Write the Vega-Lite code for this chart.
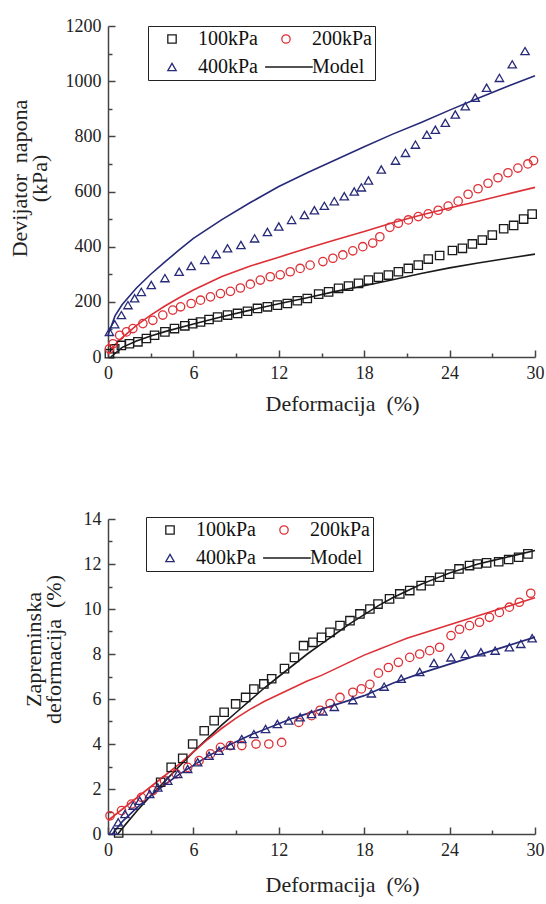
{
  "$schema": "https://vega.github.io/schema/vega-lite/v6.json",
  "padding": {"left": 8, "top": 17, "right": 8, "bottom": 5},
  "spacing": 96,
  "config": {
    "view": {"stroke": null},
    "font": "Liberation Serif",
    "axis": {
      "grid": false,
      "labelFont": "Liberation Serif",
      "labelFontSize": 18,
      "labelColor": "#222222",
      "titleFont": "Liberation Serif",
      "titleFontSize": 22,
      "titleFontWeight": "normal",
      "titleColor": "#222222",
      "domainColor": "#444444",
      "domainWidth": 1.5,
      "tickColor": "#444444",
      "tickWidth": 1.5,
      "labelOverlap": false,
      "labelFlush": false,
      "labelPadding": 14,
      "titleLineHeight": 20
    },
    "legend": {
      "orient": "none",
      "direction": "horizontal",
      "columns": 2,
      "strokeColor": "#222222",
      "padding": 3,
      "rowPadding": 8,
      "columnPadding": 7,
      "labelFont": "Liberation Serif",
      "labelFontSize": 20,
      "labelColor": "#111111",
      "labelOffset": 16,
      "symbolOffset": 11,
      "labelLimit": 300,
      "symbolStrokeWidth": 1.3,
      "clipHeight": 20,
      "symbolSize": 70
    }
  },
  "datasets": {
    "topPts": [
      {"x":0.1,"y":12,"s":"100kPa"},{"x":0.47,"y":30,"s":"100kPa"},{"x":0.94,"y":42,"s":"100kPa"},{"x":1.5,"y":48,"s":"100kPa"},{"x":2.1,"y":55,"s":"100kPa"},{"x":2.7,"y":67,"s":"100kPa"},{"x":3.27,"y":79,"s":"100kPa"},{"x":4.0,"y":91,"s":"100kPa"},{"x":4.67,"y":103,"s":"100kPa"},{"x":5.4,"y":113,"s":"100kPa"},{"x":5.95,"y":121,"s":"100kPa"},{"x":6.5,"y":127,"s":"100kPa"},{"x":7.1,"y":136,"s":"100kPa"},{"x":7.7,"y":145,"s":"100kPa"},{"x":8.4,"y":152,"s":"100kPa"},{"x":9.1,"y":158,"s":"100kPa"},{"x":9.8,"y":166,"s":"100kPa"},{"x":10.5,"y":176,"s":"100kPa"},{"x":11.2,"y":182,"s":"100kPa"},{"x":11.9,"y":188,"s":"100kPa"},{"x":12.6,"y":194,"s":"100kPa"},{"x":13.3,"y":204,"s":"100kPa"},{"x":14.0,"y":212,"s":"100kPa"},{"x":14.8,"y":228,"s":"100kPa"},{"x":15.5,"y":236,"s":"100kPa"},{"x":16.2,"y":249,"s":"100kPa"},{"x":16.9,"y":257,"s":"100kPa"},{"x":17.6,"y":267,"s":"100kPa"},{"x":18.3,"y":279,"s":"100kPa"},{"x":19.0,"y":289,"s":"100kPa"},{"x":19.7,"y":297,"s":"100kPa"},{"x":20.4,"y":309,"s":"100kPa"},{"x":21.1,"y":321,"s":"100kPa"},{"x":21.8,"y":333,"s":"100kPa"},{"x":22.5,"y":355,"s":"100kPa"},{"x":23.3,"y":368,"s":"100kPa"},{"x":24.2,"y":386,"s":"100kPa"},{"x":24.9,"y":394,"s":"100kPa"},{"x":25.6,"y":410,"s":"100kPa"},{"x":26.3,"y":424,"s":"100kPa"},{"x":27.0,"y":442,"s":"100kPa"},{"x":27.8,"y":465,"s":"100kPa"},{"x":28.5,"y":477,"s":"100kPa"},{"x":29.2,"y":500,"s":"100kPa"},{"x":29.8,"y":518,"s":"100kPa"},
      {"x":0.1,"y":30,"s":"200kPa"},{"x":0.35,"y":48,"s":"200kPa"},{"x":0.82,"y":79,"s":"200kPa"},{"x":1.3,"y":91,"s":"200kPa"},{"x":1.75,"y":103,"s":"200kPa"},{"x":2.45,"y":121,"s":"200kPa"},{"x":3.15,"y":133,"s":"200kPa"},{"x":3.85,"y":152,"s":"200kPa"},{"x":4.55,"y":170,"s":"200kPa"},{"x":5.1,"y":182,"s":"200kPa"},{"x":5.84,"y":194,"s":"200kPa"},{"x":6.5,"y":206,"s":"200kPa"},{"x":7.2,"y":218,"s":"200kPa"},{"x":7.9,"y":230,"s":"200kPa"},{"x":8.6,"y":238,"s":"200kPa"},{"x":9.3,"y":250,"s":"200kPa"},{"x":10.0,"y":264,"s":"200kPa"},{"x":10.7,"y":279,"s":"200kPa"},{"x":11.4,"y":291,"s":"200kPa"},{"x":12.1,"y":298,"s":"200kPa"},{"x":12.8,"y":309,"s":"200kPa"},{"x":13.5,"y":321,"s":"200kPa"},{"x":14.2,"y":333,"s":"200kPa"},{"x":15.1,"y":346,"s":"200kPa"},{"x":15.8,"y":358,"s":"200kPa"},{"x":16.5,"y":370,"s":"200kPa"},{"x":17.2,"y":385,"s":"200kPa"},{"x":17.9,"y":400,"s":"200kPa"},{"x":18.6,"y":413,"s":"200kPa"},{"x":19.1,"y":436,"s":"200kPa"},{"x":19.8,"y":470,"s":"200kPa"},{"x":20.4,"y":485,"s":"200kPa"},{"x":21.1,"y":497,"s":"200kPa"},{"x":21.8,"y":509,"s":"200kPa"},{"x":22.5,"y":519,"s":"200kPa"},{"x":23.2,"y":532,"s":"200kPa"},{"x":23.9,"y":547,"s":"200kPa"},{"x":24.6,"y":565,"s":"200kPa"},{"x":25.3,"y":590,"s":"200kPa"},{"x":26.0,"y":610,"s":"200kPa"},{"x":26.7,"y":630,"s":"200kPa"},{"x":27.4,"y":650,"s":"200kPa"},{"x":28.1,"y":668,"s":"200kPa"},{"x":28.8,"y":685,"s":"200kPa"},{"x":29.5,"y":700,"s":"200kPa"},{"x":29.9,"y":712,"s":"200kPa"},
      {"x":0.1,"y":91,"s":"400kPa"},{"x":0.47,"y":119,"s":"400kPa"},{"x":0.94,"y":152,"s":"400kPa"},{"x":1.4,"y":188,"s":"400kPa"},{"x":1.87,"y":213,"s":"400kPa"},{"x":2.34,"y":236,"s":"400kPa"},{"x":3.04,"y":261,"s":"400kPa"},{"x":4.0,"y":286,"s":"400kPa"},{"x":5.0,"y":309,"s":"400kPa"},{"x":5.84,"y":330,"s":"400kPa"},{"x":6.8,"y":352,"s":"400kPa"},{"x":7.6,"y":373,"s":"400kPa"},{"x":8.4,"y":394,"s":"400kPa"},{"x":9.34,"y":406,"s":"400kPa"},{"x":10.3,"y":430,"s":"400kPa"},{"x":11.2,"y":453,"s":"400kPa"},{"x":12.0,"y":473,"s":"400kPa"},{"x":12.9,"y":497,"s":"400kPa"},{"x":13.8,"y":515,"s":"400kPa"},{"x":14.5,"y":532,"s":"400kPa"},{"x":15.2,"y":548,"s":"400kPa"},{"x":15.9,"y":565,"s":"400kPa"},{"x":16.6,"y":583,"s":"400kPa"},{"x":17.3,"y":600,"s":"400kPa"},{"x":17.8,"y":615,"s":"400kPa"},{"x":18.3,"y":640,"s":"400kPa"},{"x":19.2,"y":680,"s":"400kPa"},{"x":20.2,"y":712,"s":"400kPa"},{"x":20.9,"y":740,"s":"400kPa"},{"x":21.6,"y":770,"s":"400kPa"},{"x":22.4,"y":806,"s":"400kPa"},{"x":23.0,"y":824,"s":"400kPa"},{"x":23.7,"y":849,"s":"400kPa"},{"x":24.4,"y":879,"s":"400kPa"},{"x":25.1,"y":909,"s":"400kPa"},{"x":25.8,"y":940,"s":"400kPa"},{"x":26.6,"y":976,"s":"400kPa"},{"x":27.5,"y":1012,"s":"400kPa"},{"x":28.4,"y":1061,"s":"400kPa"},{"x":29.3,"y":1109,"s":"400kPa"}
    ],
    "topModel": [
      {"x":0.2,"y":0,"s":"100kPa"},{"x":1,"y":35,"s":"100kPa"},{"x":2,"y":58,"s":"100kPa"},{"x":3,"y":76,"s":"100kPa"},{"x":4,"y":92,"s":"100kPa"},{"x":6,"y":120,"s":"100kPa"},{"x":8,"y":146,"s":"100kPa"},{"x":10,"y":170,"s":"100kPa"},{"x":12,"y":193,"s":"100kPa"},{"x":14,"y":215,"s":"100kPa"},{"x":16,"y":238,"s":"100kPa"},{"x":18,"y":258,"s":"100kPa"},{"x":20,"y":280,"s":"100kPa"},{"x":22,"y":303,"s":"100kPa"},{"x":24,"y":323,"s":"100kPa"},{"x":26,"y":341,"s":"100kPa"},{"x":28,"y":357,"s":"100kPa"},{"x":30,"y":373,"s":"100kPa"},
      {"x":0,"y":10,"s":"200kPa"},{"x":0.5,"y":45,"s":"200kPa"},{"x":1,"y":70,"s":"200kPa"},{"x":2,"y":115,"s":"200kPa"},{"x":3,"y":152,"s":"200kPa"},{"x":4,"y":185,"s":"200kPa"},{"x":5,"y":215,"s":"200kPa"},{"x":6,"y":243,"s":"200kPa"},{"x":8,"y":292,"s":"200kPa"},{"x":10,"y":330,"s":"200kPa"},{"x":12,"y":362,"s":"200kPa"},{"x":14,"y":394,"s":"200kPa"},{"x":16,"y":425,"s":"200kPa"},{"x":18,"y":455,"s":"200kPa"},{"x":20,"y":487,"s":"200kPa"},{"x":22,"y":515,"s":"200kPa"},{"x":24,"y":540,"s":"200kPa"},{"x":26,"y":565,"s":"200kPa"},{"x":28,"y":590,"s":"200kPa"},{"x":30,"y":615,"s":"200kPa"},
      {"x":0,"y":80,"s":"400kPa"},{"x":0.5,"y":150,"s":"400kPa"},{"x":1,"y":190,"s":"400kPa"},{"x":2,"y":250,"s":"400kPa"},{"x":3,"y":300,"s":"400kPa"},{"x":4,"y":345,"s":"400kPa"},{"x":5,"y":388,"s":"400kPa"},{"x":6,"y":430,"s":"400kPa"},{"x":8,"y":498,"s":"400kPa"},{"x":10,"y":560,"s":"400kPa"},{"x":12,"y":618,"s":"400kPa"},{"x":14,"y":668,"s":"400kPa"},{"x":16,"y":715,"s":"400kPa"},{"x":18,"y":762,"s":"400kPa"},{"x":20,"y":808,"s":"400kPa"},{"x":22,"y":850,"s":"400kPa"},{"x":24,"y":895,"s":"400kPa"},{"x":26,"y":938,"s":"400kPa"},{"x":28,"y":980,"s":"400kPa"},{"x":30,"y":1020,"s":"400kPa"}
    ],
    "botPts": [
      {"x":0.75,"y":0.05,"s":"100kPa"},{"x":3.7,"y":2.3,"s":"100kPa"},{"x":4.44,"y":2.96,"s":"100kPa"},{"x":5.25,"y":3.36,"s":"100kPa"},{"x":5.95,"y":4.0,"s":"100kPa"},{"x":6.76,"y":4.59,"s":"100kPa"},{"x":7.46,"y":5.04,"s":"100kPa"},{"x":8.16,"y":5.41,"s":"100kPa"},{"x":8.97,"y":5.78,"s":"100kPa"},{"x":9.67,"y":6.07,"s":"100kPa"},{"x":10.25,"y":6.44,"s":"100kPa"},{"x":10.95,"y":6.67,"s":"100kPa"},{"x":11.5,"y":6.9,"s":"100kPa"},{"x":12.4,"y":7.35,"s":"100kPa"},{"x":13.1,"y":7.85,"s":"100kPa"},{"x":13.74,"y":8.37,"s":"100kPa"},{"x":14.4,"y":8.52,"s":"100kPa"},{"x":15.0,"y":8.74,"s":"100kPa"},{"x":15.6,"y":8.96,"s":"100kPa"},{"x":16.3,"y":9.26,"s":"100kPa"},{"x":17.0,"y":9.48,"s":"100kPa"},{"x":17.7,"y":9.78,"s":"100kPa"},{"x":18.4,"y":10.0,"s":"100kPa"},{"x":18.97,"y":10.22,"s":"100kPa"},{"x":19.78,"y":10.45,"s":"100kPa"},{"x":20.5,"y":10.67,"s":"100kPa"},{"x":21.2,"y":10.82,"s":"100kPa"},{"x":22.0,"y":11.04,"s":"100kPa"},{"x":22.6,"y":11.25,"s":"100kPa"},{"x":23.3,"y":11.41,"s":"100kPa"},{"x":24.0,"y":11.55,"s":"100kPa"},{"x":24.66,"y":11.78,"s":"100kPa"},{"x":25.4,"y":11.93,"s":"100kPa"},{"x":25.95,"y":12.0,"s":"100kPa"},{"x":26.6,"y":12.05,"s":"100kPa"},{"x":27.45,"y":12.1,"s":"100kPa"},{"x":28.15,"y":12.2,"s":"100kPa"},{"x":28.85,"y":12.3,"s":"100kPa"},{"x":29.5,"y":12.45,"s":"100kPa"},
      {"x":0.14,"y":0.81,"s":"200kPa"},{"x":0.95,"y":1.04,"s":"200kPa"},{"x":1.65,"y":1.33,"s":"200kPa"},{"x":2.35,"y":1.63,"s":"200kPa"},{"x":3.16,"y":1.93,"s":"200kPa"},{"x":3.97,"y":2.37,"s":"200kPa"},{"x":4.8,"y":2.67,"s":"200kPa"},{"x":5.6,"y":2.96,"s":"200kPa"},{"x":6.4,"y":3.26,"s":"200kPa"},{"x":7.2,"y":3.56,"s":"200kPa"},{"x":7.9,"y":3.85,"s":"200kPa"},{"x":8.6,"y":3.93,"s":"200kPa"},{"x":9.4,"y":3.93,"s":"200kPa"},{"x":10.4,"y":4.0,"s":"200kPa"},{"x":11.3,"y":4.0,"s":"200kPa"},{"x":12.2,"y":4.07,"s":"200kPa"},{"x":13.4,"y":4.96,"s":"200kPa"},{"x":14.3,"y":5.26,"s":"200kPa"},{"x":14.9,"y":5.5,"s":"200kPa"},{"x":15.6,"y":5.8,"s":"200kPa"},{"x":16.3,"y":6.07,"s":"200kPa"},{"x":17.2,"y":6.3,"s":"200kPa"},{"x":17.8,"y":6.45,"s":"200kPa"},{"x":18.4,"y":6.65,"s":"200kPa"},{"x":19.0,"y":7.15,"s":"200kPa"},{"x":19.7,"y":7.4,"s":"200kPa"},{"x":20.4,"y":7.63,"s":"200kPa"},{"x":21.2,"y":7.85,"s":"200kPa"},{"x":21.9,"y":8.0,"s":"200kPa"},{"x":22.6,"y":8.15,"s":"200kPa"},{"x":23.3,"y":8.3,"s":"200kPa"},{"x":24.1,"y":8.82,"s":"200kPa"},{"x":24.7,"y":9.1,"s":"200kPa"},{"x":25.4,"y":9.26,"s":"200kPa"},{"x":26.1,"y":9.41,"s":"200kPa"},{"x":26.8,"y":9.63,"s":"200kPa"},{"x":27.5,"y":9.85,"s":"200kPa"},{"x":28.2,"y":10.08,"s":"200kPa"},{"x":28.9,"y":10.3,"s":"200kPa"},{"x":29.7,"y":10.7,"s":"200kPa"},
      {"x":0.37,"y":0.15,"s":"400kPa"},{"x":0.72,"y":0.52,"s":"400kPa"},{"x":1.19,"y":0.89,"s":"400kPa"},{"x":1.77,"y":1.26,"s":"400kPa"},{"x":2.23,"y":1.48,"s":"400kPa"},{"x":2.93,"y":1.78,"s":"400kPa"},{"x":3.5,"y":2.07,"s":"400kPa"},{"x":4.2,"y":2.37,"s":"400kPa"},{"x":4.9,"y":2.67,"s":"400kPa"},{"x":5.6,"y":2.89,"s":"400kPa"},{"x":6.3,"y":3.19,"s":"400kPa"},{"x":7.1,"y":3.48,"s":"400kPa"},{"x":7.8,"y":3.7,"s":"400kPa"},{"x":8.6,"y":3.93,"s":"400kPa"},{"x":9.4,"y":4.22,"s":"400kPa"},{"x":10.25,"y":4.44,"s":"400kPa"},{"x":11.07,"y":4.67,"s":"400kPa"},{"x":11.9,"y":4.89,"s":"400kPa"},{"x":12.7,"y":5.04,"s":"400kPa"},{"x":13.5,"y":5.19,"s":"400kPa"},{"x":14.3,"y":5.33,"s":"400kPa"},{"x":15.1,"y":5.45,"s":"400kPa"},{"x":15.9,"y":5.65,"s":"400kPa"},{"x":17.2,"y":5.95,"s":"400kPa"},{"x":18.5,"y":6.25,"s":"400kPa"},{"x":19.4,"y":6.55,"s":"400kPa"},{"x":20.6,"y":6.9,"s":"400kPa"},{"x":21.9,"y":7.2,"s":"400kPa"},{"x":22.9,"y":7.6,"s":"400kPa"},{"x":24.1,"y":7.85,"s":"400kPa"},{"x":25.1,"y":8.0,"s":"400kPa"},{"x":26.2,"y":8.08,"s":"400kPa"},{"x":27.2,"y":8.15,"s":"400kPa"},{"x":28.2,"y":8.3,"s":"400kPa"},{"x":29.0,"y":8.45,"s":"400kPa"},{"x":29.8,"y":8.7,"s":"400kPa"}
    ],
    "botModel": [
      {"x":0.7,"y":0,"s":"100kPa"},{"x":1,"y":0.25,"s":"100kPa"},{"x":2,"y":1.0,"s":"100kPa"},{"x":3,"y":1.7,"s":"100kPa"},{"x":4,"y":2.35,"s":"100kPa"},{"x":5,"y":3.0,"s":"100kPa"},{"x":6,"y":3.65,"s":"100kPa"},{"x":7,"y":4.25,"s":"100kPa"},{"x":8,"y":4.85,"s":"100kPa"},{"x":9,"y":5.4,"s":"100kPa"},{"x":10,"y":5.95,"s":"100kPa"},{"x":11,"y":6.5,"s":"100kPa"},{"x":12,"y":7.0,"s":"100kPa"},{"x":13,"y":7.5,"s":"100kPa"},{"x":14,"y":8.0,"s":"100kPa"},{"x":15,"y":8.45,"s":"100kPa"},{"x":16,"y":8.9,"s":"100kPa"},{"x":17,"y":9.35,"s":"100kPa"},{"x":18,"y":9.75,"s":"100kPa"},{"x":19,"y":10.15,"s":"100kPa"},{"x":20,"y":10.5,"s":"100kPa"},{"x":21,"y":10.8,"s":"100kPa"},{"x":22,"y":11.1,"s":"100kPa"},{"x":23,"y":11.35,"s":"100kPa"},{"x":24,"y":11.6,"s":"100kPa"},{"x":25,"y":11.8,"s":"100kPa"},{"x":26,"y":12.0,"s":"100kPa"},{"x":27,"y":12.15,"s":"100kPa"},{"x":28,"y":12.3,"s":"100kPa"},{"x":29,"y":12.45,"s":"100kPa"},{"x":30,"y":12.6,"s":"100kPa"},
      {"x":0,"y":0.6,"s":"200kPa"},{"x":1,"y":1.1,"s":"200kPa"},{"x":2,"y":1.6,"s":"200kPa"},{"x":3,"y":2.1,"s":"200kPa"},{"x":4,"y":2.6,"s":"200kPa"},{"x":5,"y":3.1,"s":"200kPa"},{"x":6,"y":3.65,"s":"200kPa"},{"x":7,"y":4.2,"s":"200kPa"},{"x":8,"y":4.7,"s":"200kPa"},{"x":9,"y":5.15,"s":"200kPa"},{"x":10,"y":5.55,"s":"200kPa"},{"x":11,"y":5.9,"s":"200kPa"},{"x":12,"y":6.2,"s":"200kPa"},{"x":13,"y":6.5,"s":"200kPa"},{"x":14,"y":6.8,"s":"200kPa"},{"x":15,"y":7.05,"s":"200kPa"},{"x":16,"y":7.35,"s":"200kPa"},{"x":17,"y":7.65,"s":"200kPa"},{"x":18,"y":7.95,"s":"200kPa"},{"x":19,"y":8.2,"s":"200kPa"},{"x":20,"y":8.45,"s":"200kPa"},{"x":21,"y":8.7,"s":"200kPa"},{"x":22,"y":8.9,"s":"200kPa"},{"x":23,"y":9.1,"s":"200kPa"},{"x":24,"y":9.3,"s":"200kPa"},{"x":25,"y":9.5,"s":"200kPa"},{"x":26,"y":9.7,"s":"200kPa"},{"x":27,"y":9.9,"s":"200kPa"},{"x":28,"y":10.1,"s":"200kPa"},{"x":29,"y":10.3,"s":"200kPa"},{"x":30,"y":10.5,"s":"200kPa"},
      {"x":0.3,"y":0,"s":"400kPa"},{"x":1,"y":0.55,"s":"400kPa"},{"x":2,"y":1.15,"s":"400kPa"},{"x":3,"y":1.7,"s":"400kPa"},{"x":4,"y":2.2,"s":"400kPa"},{"x":5,"y":2.65,"s":"400kPa"},{"x":6,"y":3.05,"s":"400kPa"},{"x":7,"y":3.45,"s":"400kPa"},{"x":8,"y":3.8,"s":"400kPa"},{"x":9,"y":4.1,"s":"400kPa"},{"x":10,"y":4.4,"s":"400kPa"},{"x":11,"y":4.65,"s":"400kPa"},{"x":12,"y":4.9,"s":"400kPa"},{"x":13,"y":5.15,"s":"400kPa"},{"x":14,"y":5.35,"s":"400kPa"},{"x":15,"y":5.55,"s":"400kPa"},{"x":16,"y":5.75,"s":"400kPa"},{"x":17,"y":5.95,"s":"400kPa"},{"x":18,"y":6.15,"s":"400kPa"},{"x":20,"y":6.7,"s":"400kPa"},{"x":22,"y":7.15,"s":"400kPa"},{"x":24,"y":7.55,"s":"400kPa"},{"x":26,"y":7.95,"s":"400kPa"},{"x":28,"y":8.35,"s":"400kPa"},{"x":30,"y":8.75,"s":"400kPa"}
    ]
  },
  "vconcat": [
    {
      "width": 427,
      "height": 331,
      "encoding": {
        "x": {"field": "x", "type": "quantitative",
          "scale": {"domain": [0, 30], "nice": false},
          "axis": {"values": [0,3,6,9,12,15,18,21,24,27,30],
            "labelExpr": "datum.value % 6 === 0 ? datum.label : ''",
            "tickSize": {"condition": {"test": "datum.value % 6 === 0", "value": -7}, "value": -4},
            "title": "Deformacija\u00a0 (%)", "titlePadding": 8, "titleX": 234}},
        "y": {"field": "y", "type": "quantitative",
          "scale": {"domain": [0, 1200], "nice": false},
          "axis": {"values": [0,100,200,300,400,500,600,700,800,900,1000,1100,1200],
            "labelExpr": "datum.value % 200 === 0 ? datum.label : ''",
            "format": "d",
            "tickSize": {"condition": {"test": "datum.value % 200 === 0", "value": -7}, "value": -4},
            "title": ["Devijator\u00a0 napona", "(kPa)"], "titlePadding": 14, "titleY": 152}},
        "color": {"field": "s", "type": "nominal",
          "scale": {"domain": ["100kPa","200kPa","400kPa","Model"], "range": ["#1a1a1a","#dd3036","#272a78","#1a1a1a"]},
          "legend": {"title": null, "legendX": 40, "legendY": 0}}
      },
      "layer": [
        {
          "data": {"name": "topModel"},
          "mark": {"type": "line", "strokeWidth": 1.6}
        },
        {
          "data": {"name": "topPts"},
          "mark": {"type": "point", "filled": false, "size": 70, "strokeWidth": 1.3, "opacity": 1},
          "encoding": {
            "shape": {"field": "s", "type": "nominal",
              "scale": {"domain": ["100kPa","200kPa","400kPa","Model"], "range": ["square","circle","triangle-up","M-5,0H6.4"]},
              "legend": {"title": null, "legendX": 40, "legendY": 0}}
          }
        }
      ]
    },
    {
      "width": 427,
      "height": 315,
      "encoding": {
        "x": {"field": "x", "type": "quantitative",
          "scale": {"domain": [0, 30], "nice": false},
          "axis": {"values": [0,3,6,9,12,15,18,21,24,27,30],
            "labelExpr": "datum.value % 6 === 0 ? datum.label : ''",
            "tickSize": {"condition": {"test": "datum.value % 6 === 0", "value": -7}, "value": -4},
            "title": "Deformacija\u00a0 (%)", "titlePadding": 12, "titleX": 234}},
        "y": {"field": "y", "type": "quantitative",
          "scale": {"domain": [0, 14], "nice": false},
          "axis": {"values": [0,1,2,3,4,5,6,7,8,9,10,11,12,13,14],
            "labelExpr": "datum.value % 2 === 0 ? datum.label : ''",
            "tickSize": {"condition": {"test": "datum.value % 2 === 0", "value": -7}, "value": -4},
            "title": ["Zapreminska", "deformacija\u00a0 (%)"], "titlePadding": 18, "titleY": 130}},
        "color": {"field": "s", "type": "nominal",
          "scale": {"domain": ["100kPa","200kPa","400kPa","Model"], "range": ["#1a1a1a","#dd3036","#272a78","#1a1a1a"]},
          "legend": {"title": null, "legendX": 38, "legendY": -2}}
      },
      "layer": [
        {
          "data": {"name": "botModel"},
          "mark": {"type": "line", "strokeWidth": 1.6}
        },
        {
          "data": {"name": "botPts"},
          "mark": {"type": "point", "filled": false, "size": 70, "strokeWidth": 1.3, "opacity": 1},
          "encoding": {
            "shape": {"field": "s", "type": "nominal",
              "scale": {"domain": ["100kPa","200kPa","400kPa","Model"], "range": ["square","circle","triangle-up","M-5,0H6.4"]},
              "legend": {"title": null, "legendX": 38, "legendY": -2}}
          }
        }
      ]
    }
  ],
  "resolve": {"scale": {"color": "independent", "shape": "independent"}}
}
